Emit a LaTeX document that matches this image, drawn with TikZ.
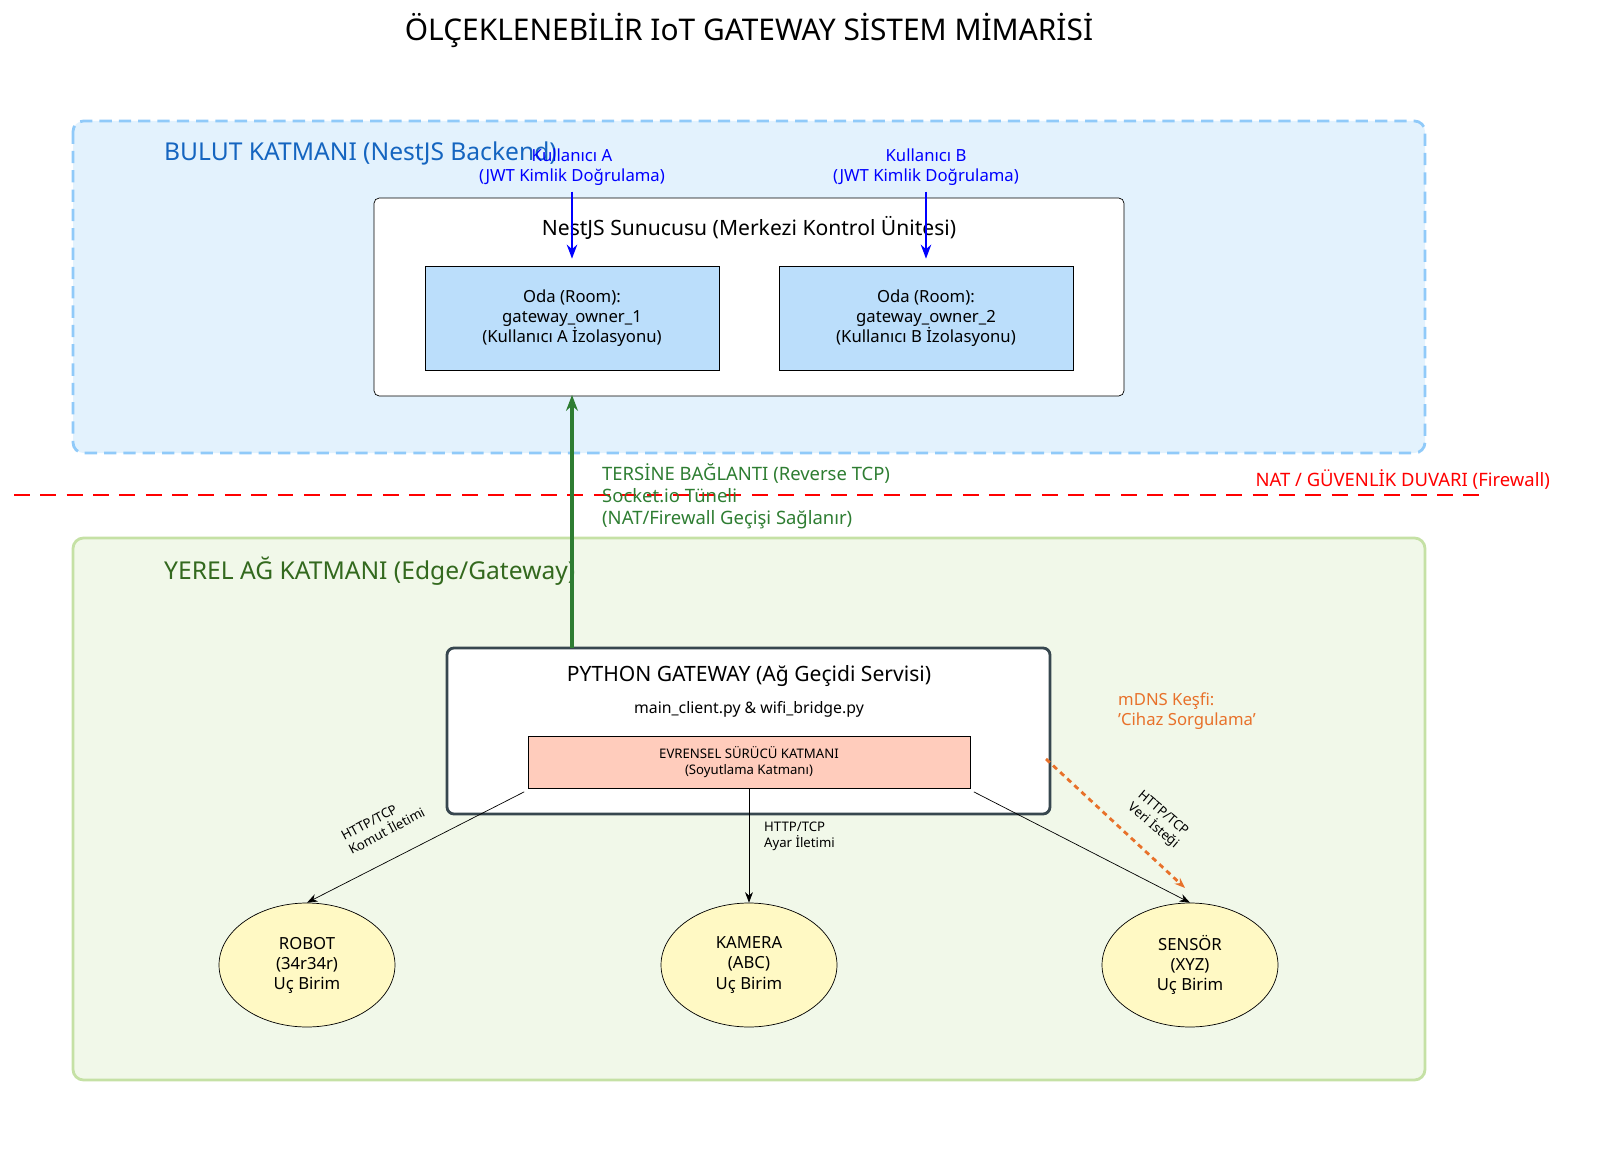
\documentclass[tikz,border=0pt]{standalone}
\usepackage{fontspec}
\setmainfont{Noto Sans}
\usetikzlibrary{arrows.meta,positioning,shapes.geometric}
\definecolor{cloudfill}{HTML}{E3F2FD}
\definecolor{cloudline}{HTML}{90CAF9}
\definecolor{cloudtext}{HTML}{1565C0}
\definecolor{roomfill}{HTML}{BBDEFB}
\definecolor{localfill}{HTML}{F1F8E9}
\definecolor{localline}{HTML}{C5E1A5}
\definecolor{localtext}{HTML}{33691E}
\definecolor{tunnel}{HTML}{2E7D32}
\definecolor{gwline}{HTML}{37474F}
\definecolor{driverfill}{HTML}{FFCCBC}
\definecolor{devfill}{HTML}{FFF9C4}
\definecolor{mdns}{HTML}{E8712A}
\newcommand{\fs}[1]{\fontsize{#1pt}{\dimexpr #1pt*6/5\relax}\selectfont}
\tikzset{
  layer/.style={rounded corners=6pt, line width=1.6pt},
  room/.style={draw, fill=roomfill, minimum width=5.88cm, minimum height=2.08cm, align=center, font=\fs{9.5}},
  device/.style={draw, ellipse, fill=devfill, minimum width=3.52cm, minimum height=2.48cm, align=center, font=\fs{9.5}},
  link/.style={-{Stealth[length=6pt]}, thin},
  tag/.style={font=\fs{7.5}, align=left}
}
\begin{document}
\begin{tikzpicture}[x=0.02cm, y=-0.02cm]
\useasboundingbox (0,0) rectangle (1600,1159);
\node[font=\fs{17}] (title) at (749,30) {ÖLÇEKLENEBİLİR IoT GATEWAY SİSTEM MİMARİSİ};
% cloud layer
\draw[layer, dash pattern=on 7pt off 4pt, draw=cloudline, fill=cloudfill] (73,121) rectangle (1425,453);
\node[anchor=west, text=cloudtext, font=\fs{14}] (cloudlbl) at (158,153) {BULUT KATMANI (NestJS Backend)};
\draw[rounded corners=3pt, fill=white] (374,198) rectangle (1124,396);
\node[font=\fs{12}] (server) at (749,228) {NestJS Sunucusu (Merkezi Kontrol Ünitesi)};
\node[room] (room1) at (572,318) {Oda (Room):\\gateway\_owner\_1\\(Kullanıcı A İzolasyonu)};
\node[room] (room2) at (926,318) {Oda (Room):\\gateway\_owner\_2\\(Kullanıcı B İzolasyonu)};
\node[text=blue, align=center, font=\fs{9.5}] (userA) at (572,167) {Kullanıcı A\\(JWT Kimlik Doğrulama)};
\node[text=blue, align=center, font=\fs{9.5}] (userB) at (926,167) {Kullanıcı B\\(JWT Kimlik Doğrulama)};
\draw[-{Stealth[length=8pt]}, blue, thick] (userA.south) -- ([yshift=4pt]room1.north);
\draw[-{Stealth[length=8pt]}, blue, thick] (userB.south) -- ([yshift=4pt]room2.north);
% firewall
\draw[red, line width=1.6pt, dash pattern=on 9pt off 6pt] (14,495) coordinate (fwl) -- (1485,495) coordinate (fwr);
\node[anchor=east, text=red, font=\fs{10.5}] (fwlbl) at (1556,480) {NAT / GÜVENLİK DUVARI (Firewall)};
% local layer
\draw[layer, draw=localline, fill=localfill] (73,538) rectangle (1425,1080);
\node[anchor=west, text=localtext, font=\fs{14}] (locallbl) at (158,571) {YEREL AĞ KATMANI (Edge/Gateway)};
\draw[rounded corners=4pt, draw=gwline, line width=1.6pt, fill=white] (447,648) rectangle (1050,814);
\node[font=\fs{12}] (gateway) at (749,676) {PYTHON GATEWAY (Ağ Geçidi Servisi)};
\node[font=\fs{9}] (files) at (749,709) {main\_client.py \& wifi\_bridge.py};
\node[draw, fill=driverfill, minimum width=8.84cm, minimum height=1.04cm, align=center, font=\fs{7.5}] (driver) at (749,762) {EVRENSEL SÜRÜCÜ KATMANI\\(Soyutlama Katmanı)};
% tunnel
\coordinate (gwtop) at (572,648);
\draw[-{Stealth[length=9pt]}, tunnel, line width=2.4pt] (gwtop) -- ([yshift=-14pt]room1.south);
\node[anchor=north west, text=tunnel, align=left, font=\fs{10.5}] (tunnellbl) at (596,457) {TERSİNE BAĞLANTI (Reverse TCP)\\Socket.io Tüneli\\(NAT/Firewall Geçişi Sağlanır)};
% devices
\node[device] (robot) at (307,965) {ROBOT\\(34r34r)\\Uç Birim};
\node[device] (camera) at (749,965) {KAMERA\\(ABC)\\Uç Birim};
\node[device] (sensor) at (1190,965) {SENSÖR\\(XYZ)\\Uç Birim};
\draw[link] ([shift={(-2pt,-2pt)}]driver.south west) -- (robot.north);
\draw[link] (driver.south) -- (camera.north);
\draw[link] ([shift={(2pt,-2pt)}]driver.south east) -- (sensor.north);
\node[tag, rotate=28] (cmdlbl) at (383,824) {HTTP/TCP\\Komut İletimi};
\node[tag, anchor=north west] (setlbl) at (758,816) {HTTP/TCP\\Ayar İletimi};
\node[tag, rotate=-40] (reqlbl) at (1158,820) {HTTP/TCP\\Veri İsteği};
% mdns
\coordinate (mdnsstart) at (1046,759);
\coordinate (mdnsend) at (1185,888);
\draw[-{Stealth[length=6pt]}, mdns, line width=1.6pt, dash pattern=on 3pt off 2.5pt] (mdnsstart) -- (mdnsend);
\node[anchor=west, text=mdns, align=left, font=\fs{9.5}] (mdnslbl) at (1112,711) {mDNS Keşfi:\\'Cihaz Sorgulama'};
\end{tikzpicture}
\end{document}
